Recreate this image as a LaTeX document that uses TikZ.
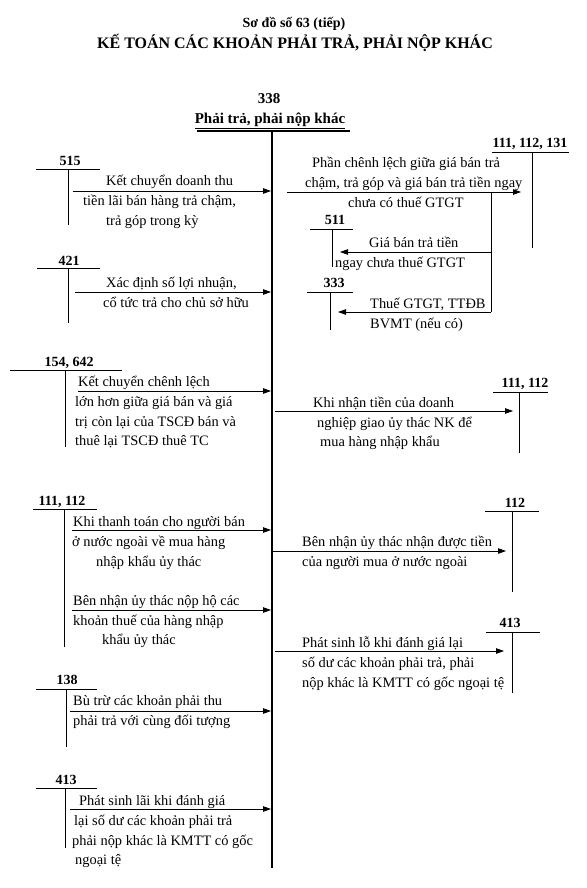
\documentclass[tikz,border=0pt]{standalone}
\usepackage{fontspec}
\setmainfont{Liberation Serif}
\usetikzlibrary{arrows.meta}
\tikzset{
  txt/.style={font=\fontsize{14.4}{20}\selectfont, inner sep=0pt, anchor=base west},
  acc/.style={font=\fontsize{14}{16}\selectfont\bfseries, inner sep=0pt, anchor=base},
  ttl/.style={font=\fontsize{15}{18}\selectfont\bfseries, inner sep=0pt, anchor=base},
  tline/.style={line width=0.8pt},
  mainline/.style={line width=1.8pt},
  arr/.style={line width=0.8pt, -{Triangle[length=8pt,width=5.5pt]}},
}
\begin{document}
\begin{tikzpicture}[x=1pt,y=-1pt]
\useasboundingbox (0,0) rectangle (586,888);

% Title
\node[ttl, font=\fontsize{14}{17}\selectfont\bfseries] (title1) at (294,28) {Sơ đồ số 63 (tiếp)};
\node[ttl, font=\fontsize{16}{19}\selectfont\bfseries] (title2) at (295,49) {KẾ TOÁN CÁC KHOẢN PHẢI TRẢ, PHẢI NỘP KHÁC};

% Main account 338
\node[ttl] (h338) at (269,104) {338};
\node[ttl] (h338n) at (270,124) {\underline{Phải trả, phải nộp khác}};
\draw[mainline] (197,131) -- (350,131);
\coordinate (mtop) at (272,131);
\coordinate (mbot) at (272,868);
\draw[mainline] (mtop) -- (mbot);

% ---------- Left accounts ----------
% 515
\node[acc] (a515) at (70,165) {515};
\draw[tline] (36,169.5) -- (100,169.5);
\draw[tline] (68,169.5) -- (68,225);
\coordinate (s515) at (73,191); \coordinate (e515) at (271,191);
\draw[arr] (s515) -- (e515);
\node[txt] (t515a) at (106,185) {Kết chuyển doanh thu};
\node[txt] (t515b) at (83,205) {tiền lãi bán hàng trả chậm,};
\node[txt] (t515c) at (106,225) {trả góp trong kỳ};

% 421
\node[acc] (a421) at (69,265) {421};
\draw[tline] (37,268.5) -- (100,268.5);
\draw[tline] (68,268.5) -- (68,323);
\coordinate (s421) at (75,292); \coordinate (e421) at (271,292);
\draw[arr] (s421) -- (e421);
\node[txt] (t421a) at (106,287) {Xác định số lợi nhuận,};
\node[txt] (t421b) at (103,307) {cổ tức trả cho chủ sở hữu};

% 154, 642
\node[acc] (a154) at (69,366) {154, 642};
\draw[tline] (10,370) -- (122,370);
\draw[tline] (65,370) -- (65,447);
\coordinate (s154) at (78,391); \coordinate (e154) at (271,391);
\draw[arr] (s154) -- (e154);
\node[txt] (t154a) at (78,386) {Kết chuyển chênh lệch};
\node[txt] (t154b) at (75,406) {lớn hơn giữa giá bán và giá};
\node[txt] (t154c) at (75,426) {trị còn lại của TSCĐ bán và};
\node[txt] (t154d) at (75,445) {thuê lại TSCĐ thuê TC};

% 111, 112 (left)
\node[acc] (a111l) at (62,505) {111, 112};
\draw[tline] (33,509) -- (97,509);
\draw[tline] (64,509) -- (64,647);
\coordinate (s111a) at (72,530); \coordinate (e111a) at (271,530);
\draw[arr] (s111a) -- (e111a);
\node[txt] (t111a) at (73,526) {Khi thanh toán cho người bán};
\node[txt] (t111b) at (72,546) {ở nước ngoài về mua hàng};
\node[txt] (t111c) at (96,566) {nhập khẩu ủy thác};
\coordinate (s111b) at (72,610); \coordinate (e111b) at (271,610);
\draw[arr] (s111b) -- (e111b);
\node[txt] (t111d) at (73,605) {Bên nhận ủy thác nộp hộ các};
\node[txt] (t111e) at (73,625) {khoản thuế của hàng nhập};
\node[txt] (t111f) at (102,644) {khẩu ủy thác};

% 138
\node[acc] (a138) at (67,684) {138};
\draw[tline] (36,689) -- (97,689);
\draw[tline] (66,689) -- (66,747);
\coordinate (s138) at (70,711); \coordinate (e138) at (271,711);
\draw[arr] (s138) -- (e138);
\node[txt] (t138a) at (73,705) {Bù trừ các khoản phải thu};
\node[txt] (t138b) at (73,725) {phải trả với cùng đối tượng};

% 413 (left)
\node[acc] (a413l) at (66,784) {413};
\draw[tline] (36,788) -- (97,788);
\draw[tline] (65,788) -- (65,848);
\coordinate (s413l) at (70,809); \coordinate (e413l) at (271,809);
\draw[arr] (s413l) -- (e413l);
\node[txt] (t413a) at (79,805) {Phát sinh lãi khi đánh giá};
\node[txt] (t413b) at (74,825) {lại số dư các khoản phải trả};
\node[txt] (t413c) at (72,845) {phải nộp khác là KMTT có gốc};
\node[txt] (t413d) at (75,864) {ngoại tệ};

% ---------- Right accounts ----------
% 111, 112, 131
\node[acc] (a111r) at (530,147) {111, 112, 131};
\draw[tline] (492,152) -- (569,152);
\draw[tline] (532,152) -- (532,248);
\coordinate (s131) at (287,192); \coordinate (e131) at (521,192);
\draw[arr] (s131) -- (e131);
\node[txt] (t131a) at (312,167) {Phần chênh lệch giữa giá bán trả};
\node[txt] (t131b) at (305,187) {chậm, trả góp và giá bán trả tiền ngay};
\node[txt] (t131c) at (348,207) {chưa có thuế GTGT};
\coordinate (br1) at (491,192);
\coordinate (br2) at (491,252);
\coordinate (br3) at (491,312);
\draw[tline] (br1) -- (br3);

% 511
\node[acc] (a511) at (335,224) {511};
\draw[tline] (310,229) -- (353,229);
\draw[tline] (332,229) -- (332,267);
\coordinate (e511) at (340,252);
\draw[arr] (br2) -- (e511);
\node[txt] (t511a) at (369,247) {Giá bán trả tiền};
\node[txt] (t511b) at (335,267) {ngay chưa thuế GTGT};

% 333
\node[acc] (a333) at (334,287) {333};
\draw[tline] (307,292) -- (353,292);
\draw[tline] (330,292) -- (330,330);
\coordinate (e333) at (338,312);
\draw[arr] (br3) -- (e333);
\node[txt] (t333a) at (370,308) {Thuế GTGT, TTĐB};
\node[txt] (t333b) at (370,328) {BVMT (nếu có)};

% 111, 112 (right)
\node[acc] (a112r) at (525,387) {111, 112};
\draw[tline] (493,392) -- (548,392);
\draw[tline] (519,392) -- (519,453);
\coordinate (s112r) at (275,411); \coordinate (e112r) at (513,411);
\draw[arr] (s112r) -- (e112r);
\node[txt] (t112a) at (313,407) {Khi nhận tiền của doanh};
\node[txt] (t112b) at (317,427) {nghiệp giao ủy thác NK để};
\node[txt] (t112c) at (320,446) {mua hàng nhập khẩu};

% 112
\node[acc] (a112) at (515,507) {112};
\draw[tline] (485,511) -- (539,511);
\draw[tline] (512,511) -- (512,592);
\coordinate (s112) at (273,551); \coordinate (e112) at (506,551);
\draw[arr] (s112) -- (e112);
\node[txt] (t112d) at (302,546) {Bên nhận ủy thác nhận được tiền};
\node[txt] (t112e) at (302,566) {của người mua ở nước ngoài};

% 413 (right)
\node[acc] (a413r) at (510,627) {413};
\draw[tline] (486,632) -- (540,632);
\draw[tline] (512,632) -- (512,693);
\coordinate (s413r) at (275,651); \coordinate (e413r) at (504,651);
\draw[arr] (s413r) -- (e413r);
\node[txt] (t413e) at (302,647) {Phát sinh lỗ khi đánh giá lại};
\node[txt] (t413f) at (302,667) {số dư các khoản phải trả, phải};
\node[txt] (t413g) at (302,687) {nộp khác là KMTT có gốc ngoại tệ};
\end{tikzpicture}
\end{document}
